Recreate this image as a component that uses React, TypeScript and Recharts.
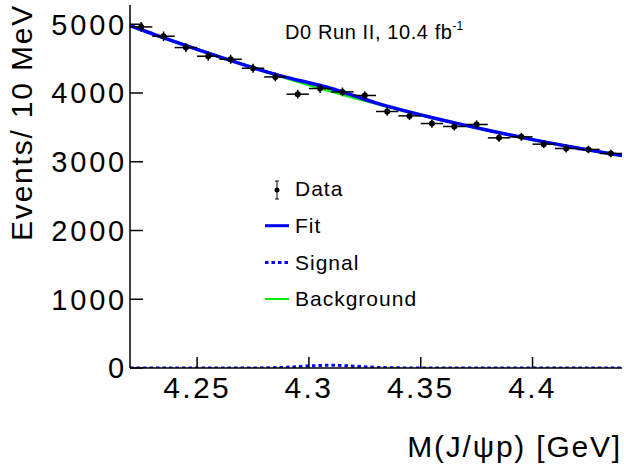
import React from 'react';
import {
  ComposedChart,
  Line,
  Scatter,
  ErrorBar,
  XAxis,
  YAxis,
  Customized,
} from 'recharts';

// ---- data ----
const binCenters = [
  4.225, 4.235, 4.245, 4.255, 4.265, 4.275, 4.285, 4.295, 4.305, 4.315, 4.325,
  4.335, 4.345, 4.355, 4.365, 4.375, 4.385, 4.395, 4.405, 4.415, 4.425, 4.435,
];
const counts = [
  4961, 4826, 4661, 4535, 4491, 4360, 4234, 3983, 4065, 4016, 3964, 3731, 3667,
  3556, 3513, 3542, 3348, 3362, 3256, 3193, 3179, 3120,
];
const countErrors = [
  70, 69, 68, 67, 67, 66, 65, 63, 64, 63, 63, 61, 61, 60, 59, 60, 58, 58, 57, 57,
  56, 56,
];
const BIN_HALF_WIDTH = 0.005;

const curveX = [
  4.22, 4.23, 4.24, 4.25, 4.26, 4.27, 4.28, 4.29, 4.3, 4.31, 4.32, 4.33, 4.34,
  4.35, 4.36, 4.37, 4.38, 4.39, 4.4, 4.41, 4.42, 4.43, 4.44,
];
const fitValues = [
  4980, 4862, 4746, 4634, 4525, 4419, 4318, 4227, 4149, 4066, 3962, 3857, 3765,
  3682, 3604, 3529, 3457, 3388, 3322, 3260, 3200, 3144, 3090,
];
const backgroundValues = [
  4980, 4862, 4746, 4634, 4525, 4419, 4316, 4216, 4119, 4026, 3935, 3848, 3763,
  3682, 3604, 3529, 3457, 3388, 3322, 3260, 3200, 3144, 3090,
];
const signalValues = [
  0, 0, 0, 0, 0, 0, 2, 11, 30, 40, 27, 9, 2, 0, 0, 0, 0, 0, 0, 0, 0, 0, 0,
];

const xTicks = [4.25, 4.3, 4.35, 4.4];
const yTicks = [0, 1000, 2000, 3000, 4000, 5000];
const X_DOMAIN: [number, number] = [4.22, 4.44];
const Y_DOMAIN: [number, number] = [0, 5280];

const dataRows = binCenters.map((x, i) => ({
  x,
  y: counts[i],
  ey: countErrors[i],
  ex: BIN_HALF_WIDTH,
}));
const fitRows = curveX.map((x, i) => ({ x, v: fitValues[i] }));
const bkgRows = curveX.map((x, i) => ({ x, v: backgroundValues[i] }));
const sigRows = curveX.map((x, i) => ({ x, v: signalValues[i] }));

const FONT = '"Liberation Sans", Arial, Helvetica, sans-serif';

const Annotations = () => {
  const lx1 = 265;
  const lx2 = 289;
  const tx = 295;
  const rows = [189, 225.7, 262.5, 299];
  const textStyle = {
    fontFamily: FONT,
    fontSize: 21,
    letterSpacing: 1,
    fill: '#000',
  } as const;
  return (
    <g>
      <text
        x={285}
        y={39}
        fontFamily={FONT}
        fontSize={20}
        letterSpacing={0.6}
        fill="#000"
      >
        D0 Run II, 10.4 fb
        <tspan dy={-9} fontSize={12} letterSpacing={0}>
          -1
        </tspan>
      </text>
      {/* legend */}
      <line x1={277} x2={277} y1={181} y2={199} stroke="#000" strokeWidth={1} />
      <line x1={275} x2={279} y1={181} y2={181} stroke="#000" strokeWidth={1} />
      <line x1={275} x2={279} y1={199} y2={199} stroke="#000" strokeWidth={1} />
      <circle cx={277} cy={190} r={2.5} fill="#000" />
      <text x={tx} y={rows[0] + 7} {...textStyle}>Data</text>

      <line x1={lx1} x2={lx2} y1={rows[1]} y2={rows[1]} stroke="#0000ff" strokeWidth={3} />
      <text x={tx} y={rows[1] + 7} {...textStyle}>Fit</text>

      <line
        x1={lx1}
        x2={lx2}
        y1={rows[2]}
        y2={rows[2]}
        stroke="#0000ff"
        strokeWidth={3}
        strokeDasharray="3.5 3"
      />
      <text x={tx} y={rows[2] + 7} {...textStyle}>Signal</text>

      <line x1={lx1} x2={lx2} y1={rows[3]} y2={rows[3]} stroke="#00ee00" strokeWidth={2} />
      <text x={tx} y={rows[3] + 7} {...textStyle}>Background</text>

      {/* axis titles */}
      <text
        x={622}
        y={457}
        textAnchor="end"
        fontFamily={FONT}
        fontSize={30}
        letterSpacing={1.8}
        fill="#000"
      >
        M(J/ψp) [GeV]
      </text>
      <text
        x={32}
        y={122.5}
        textAnchor="middle"
        transform="rotate(-90, 32, 122.5)"
        fontFamily={FONT}
        fontSize={30}
        letterSpacing={1.8}
        fill="#000"
      >
        Events/ 10 MeV
      </text>
    </g>
  );
};

const DataPoint = (props: any) => {
  const { cx, cy } = props;
  if (cx == null || cy == null) return null;
  return <circle cx={cx} cy={cy} r={3} fill="#000" />;
};

export default function App() {
  const axisLine = { stroke: '#000', strokeWidth: 1.5 };
  const tickLine = { stroke: '#000', strokeWidth: 1.5 };
  return (
    <div style={{ position: 'absolute', left: 0, top: 0, width: 624, height: 466, background: '#fff' }}>
      <ComposedChart
        width={624}
        height={466}
        margin={{ top: 5, right: 2, bottom: 0, left: 0 }}
      >
        <XAxis
          xAxisId="bottom"
          dataKey="x"
          type="number"
          domain={X_DOMAIN}
          ticks={xTicks}
          allowDataOverflow
          height={98}
          tickSize={-11}
          tickMargin={20}
          axisLine={axisLine}
          tickLine={tickLine}
          tick={{ fontSize: 30, fill: '#000', fontFamily: FONT, letterSpacing: 2.3 }}
          tickFormatter={(v: number) => String(v)}
          interval={0}
        />
        <XAxis
          xAxisId="top"
          orientation="top"
          dataKey="x"
          type="number"
          domain={X_DOMAIN}
          ticks={xTicks}
          allowDataOverflow
          height={0}
          tickSize={-11}
          axisLine={axisLine}
          tickLine={tickLine}
          tick={false}
          interval={0}
        />
        <YAxis
          yAxisId="left"
          type="number"
          domain={Y_DOMAIN}
          ticks={yTicks}
          allowDataOverflow
          width={130}
          tickSize={-13}
          tickMargin={16}
          axisLine={axisLine}
          tickLine={tickLine}
          tick={{ fontSize: 29, fill: '#000', fontFamily: FONT, letterSpacing: 2.8 }}
          interval={0}
        />
        <YAxis
          yAxisId="right"
          orientation="right"
          type="number"
          domain={Y_DOMAIN}
          ticks={yTicks}
          allowDataOverflow
          width={0}
          tickSize={-13}
          axisLine={axisLine}
          tickLine={tickLine}
          tick={false}
          interval={0}
        />
        <Line
          xAxisId="bottom"
          yAxisId="left"
          data={sigRows}
          dataKey="v"
          type="monotone"
          stroke="#0000ff"
          strokeWidth={3}
          strokeDasharray="3.5 3"
          dot={false}
          activeDot={false}
          isAnimationActive={false}
        />
        <Line
          xAxisId="bottom"
          yAxisId="left"
          data={bkgRows}
          dataKey="v"
          type="monotone"
          stroke="#00ee00"
          strokeWidth={3}
          dot={false}
          activeDot={false}
          isAnimationActive={false}
        />
        <Line
          xAxisId="bottom"
          yAxisId="left"
          data={fitRows}
          dataKey="v"
          type="monotone"
          stroke="#0000ff"
          strokeWidth={3.5}
          dot={false}
          activeDot={false}
          isAnimationActive={false}
        />
        <Scatter
          xAxisId="bottom"
          yAxisId="left"
          data={dataRows}
          dataKey="y"
          fill="#000"
          shape={DataPoint}
          isAnimationActive={false}
        >
          <ErrorBar dataKey="ey" direction="y" width={0} stroke="#000" strokeWidth={1.5} />
          <ErrorBar dataKey="ex" direction="x" width={0} stroke="#000" strokeWidth={1.5} />
        </Scatter>
        <Customized component={Annotations} />
      </ComposedChart>
    </div>
  );
}
